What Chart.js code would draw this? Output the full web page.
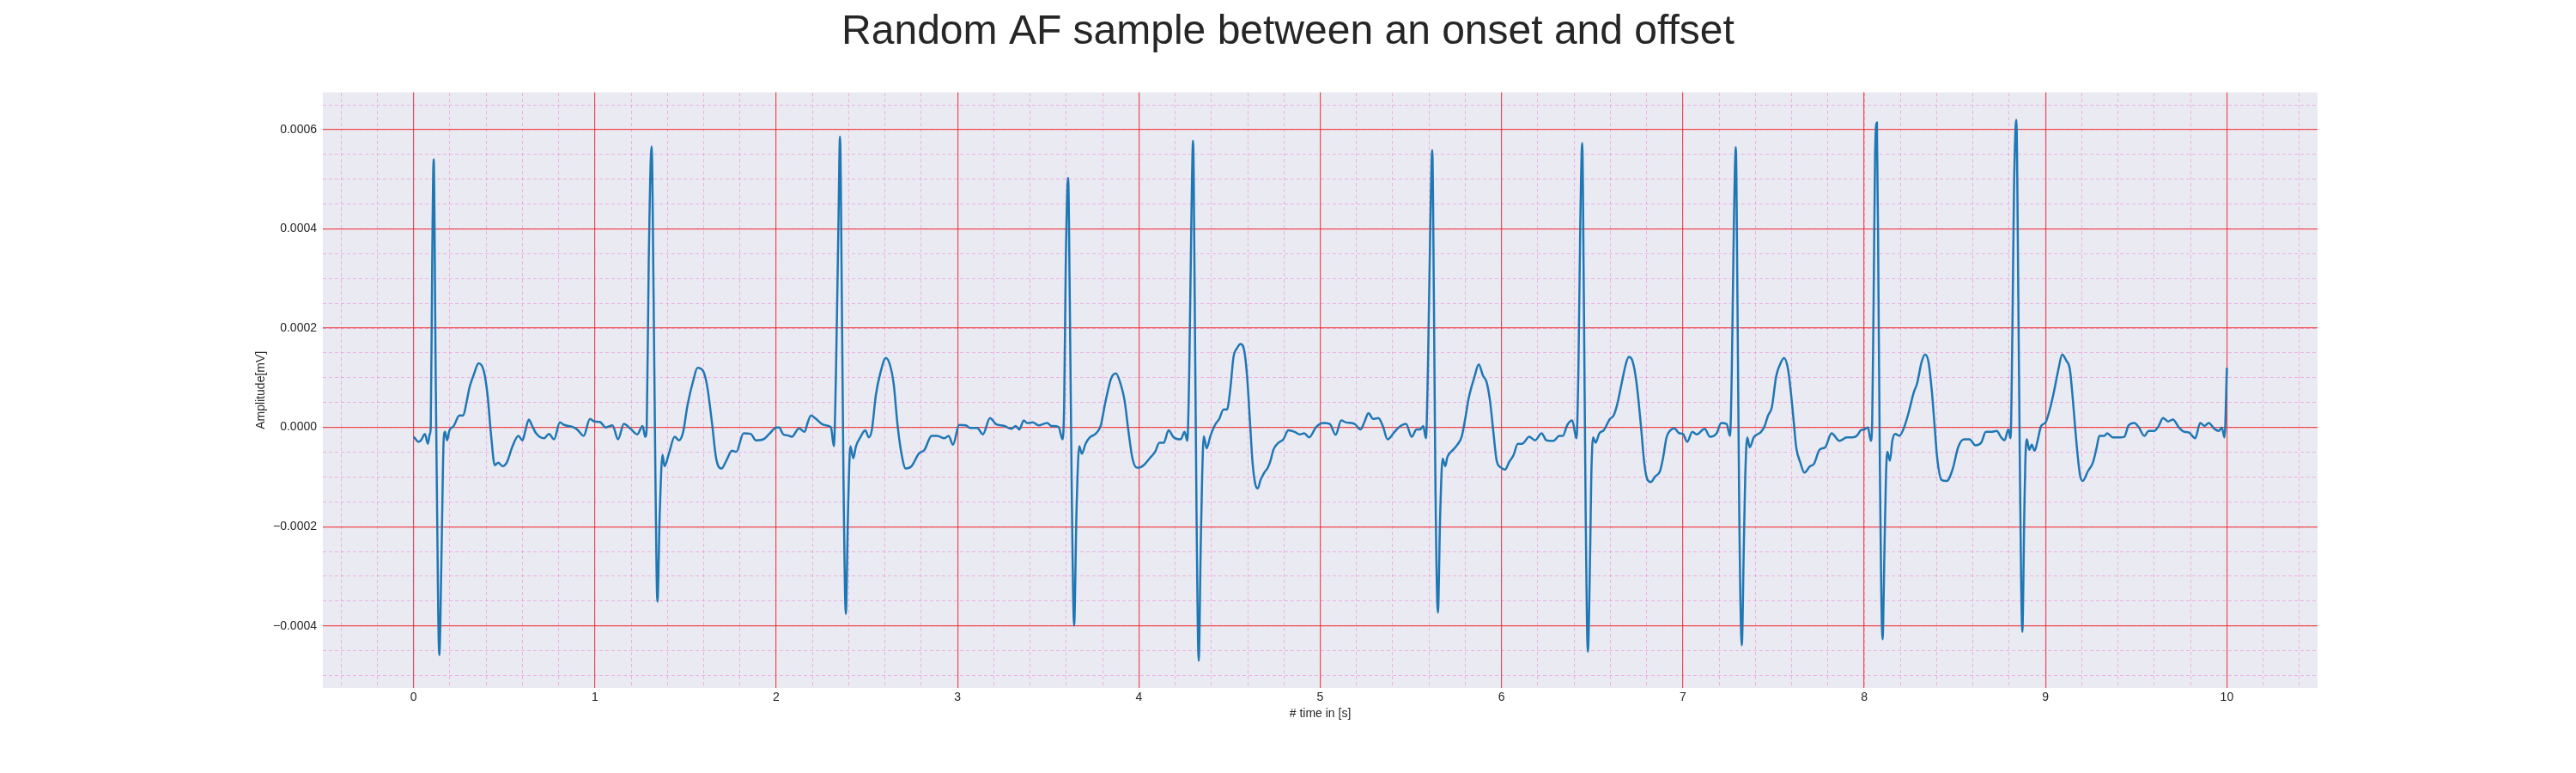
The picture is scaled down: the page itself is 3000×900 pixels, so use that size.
<!DOCTYPE html>
<html>
<head>
<meta charset="utf-8">
<script src="https://cdn.jsdelivr.net/npm/chart.js@4.4.1/dist/chart.umd.min.js"></script>
<style>
  body { margin: 0; background: #fff; }
  canvas { display: block; }
</style>
</head>
<body>
<canvas id="canvas" width="3000" height="900"></canvas>
<script>
// values: time in s, amplitude in units of 1e-4 mV
const AMP_UNIT = 1e-4;

const time_0_2 = [0.000, 0.008, 0.027, 0.043, 0.063, 0.079, 0.090, 0.095, 0.103, 0.111, 0.122, 0.128, 0.142, 0.155, 0.166, 0.174, 0.185, 0.198, 0.222, 0.253, 0.274, 0.293, 0.309, 0.332, 0.359, 0.388, 0.408, 0.427, 0.448, 0.467, 0.491, 0.514, 0.546, 0.578, 0.601, 0.617, 0.636, 0.652, 0.676, 0.720, 0.747, 0.775, 0.807, 0.831, 0.878, 0.902, 0.938, 0.973, 0.997, 1.028, 1.060, 1.097, 1.128, 1.160, 1.195, 1.234, 1.263, 1.278, 1.286, 1.297, 1.313, 1.324, 1.334, 1.345, 1.358, 1.373, 1.384, 1.408, 1.440, 1.464, 1.487, 1.511, 1.543, 1.566, 1.598, 1.619, 1.646, 1.669, 1.698, 1.725, 1.756, 1.780, 1.820, 1.859, 1.888, 1.930, 1.962, 2.002];
const amp_0_2 = [-0.19, -0.22, -0.29, -0.25, -0.13, -0.33, -0.13, 0.00, 3.32, 5.40, 1.17, -0.99, -4.59, -2.43, -0.27, -0.09, -0.26, -0.06, 0.03, 0.24, 0.24, 0.52, 0.81, 1.06, 1.29, 1.13, 0.66, -0.13, -0.76, -0.71, -0.78, -0.71, -0.38, -0.17, -0.26, -0.06, 0.16, 0.05, -0.12, -0.22, -0.13, -0.24, 0.10, 0.05, 0.01, -0.04, -0.17, 0.17, 0.12, 0.11, 0.00, 0.04, -0.24, 0.07, -0.02, -0.14, 0.03, -0.19, 0.00, 3.32, 5.66, 2.60, -0.99, -3.51, -1.71, -0.55, -0.78, -0.53, -0.19, -0.26, -0.09, 0.45, 0.95, 1.20, 1.13, 0.84, 0.09, -0.63, -0.83, -0.67, -0.47, -0.49, -0.12, -0.13, -0.26, -0.24, -0.13, 0.00];

const time_2_4 = [2.016, 2.039, 2.063, 2.086, 2.126, 2.157, 2.173, 2.192, 2.220, 2.252, 2.275, 2.302, 2.318, 2.330, 2.343, 2.352, 2.362, 2.371, 2.384, 2.396, 2.409, 2.425, 2.440, 2.464, 2.491, 2.511, 2.527, 2.550, 2.574, 2.605, 2.629, 2.648, 2.668, 2.689, 2.715, 2.747, 2.786, 2.818, 2.857, 2.888, 2.928, 2.951, 2.975, 3.009, 3.046, 3.069, 3.108, 3.140, 3.179, 3.211, 3.258, 3.297, 3.321, 3.341, 3.365, 3.384, 3.415, 3.447, 3.494, 3.517, 3.557, 3.579, 3.588, 3.597, 3.610, 3.619, 3.629, 3.643, 3.656, 3.671, 3.686, 3.706, 3.730, 3.761, 3.789, 3.816, 3.847, 3.874, 3.899, 3.921, 3.942, 3.965, 3.989];
const amp_2_4 = [0.00, -0.14, -0.16, -0.19, -0.02, -0.09, 0.09, 0.24, 0.17, 0.07, 0.04, 0.00, -0.38, 1.17, 4.04, 5.86, 2.60, -0.99, -3.76, -1.71, -0.38, -0.62, -0.38, -0.20, -0.06, -0.20, -0.06, 0.66, 1.09, 1.40, 1.24, 0.88, 0.09, -0.49, -0.83, -0.78, -0.53, -0.45, -0.17, -0.17, -0.22, -0.17, -0.35, 0.05, 0.04, -0.01, -0.01, -0.14, 0.19, 0.07, 0.03, -0.03, 0.03, -0.04, 0.14, 0.09, 0.10, 0.04, 0.09, 0.03, 0.01, -0.24, 0.45, 3.32, 5.03, 2.60, -0.99, -3.99, -1.71, -0.38, -0.53, -0.33, -0.20, -0.13, 0.03, 0.52, 0.99, 1.09, 0.88, 0.55, -0.06, -0.63, -0.81];

const time_4_6 = [4.000, 4.027, 4.058, 4.090, 4.113, 4.137, 4.164, 4.192, 4.231, 4.252, 4.267, 4.278, 4.289, 4.299, 4.308, 4.318, 4.330, 4.341, 4.349, 4.358, 4.374, 4.393, 4.420, 4.443, 4.467, 4.486, 4.503, 4.522, 4.542, 4.561, 4.582, 4.597, 4.612, 4.627, 4.642, 4.656, 4.671, 4.692, 4.711, 4.726, 4.742, 4.769, 4.797, 4.824, 4.860, 4.887, 4.912, 4.939, 4.978, 5.017, 5.053, 5.085, 5.116, 5.143, 5.190, 5.222, 5.245, 5.266, 5.292, 5.321, 5.347, 5.371, 5.410, 5.437, 5.473, 5.505, 5.531, 5.552, 5.568, 5.583, 5.594, 5.607, 5.618, 5.627, 5.635, 5.649, 5.662, 5.675, 5.690, 5.701, 5.733, 5.756, 5.780, 5.799, 5.819, 5.851, 5.874, 5.898, 5.918, 5.937, 5.956, 5.973, 5.997];
const amp_4_6 = [-0.81, -0.76, -0.63, -0.49, -0.31, -0.31, -0.06, -0.20, -0.24, -0.09, -0.27, 1.17, 4.04, 5.78, 2.60, -1.71, -4.70, -2.43, -0.99, -0.18, -0.42, -0.19, 0.05, 0.17, 0.36, 0.36, 0.73, 1.42, 1.60, 1.68, 1.53, 1.02, 0.16, -0.71, -1.14, -1.23, -1.06, -0.91, -0.81, -0.67, -0.45, -0.31, -0.24, -0.06, -0.09, -0.14, -0.12, -0.20, 0.01, 0.09, 0.07, -0.15, 0.14, 0.10, 0.07, -0.04, 0.12, 0.29, 0.17, 0.19, 0.01, -0.24, -0.09, 0.01, 0.07, -0.19, -0.04, -0.04, 0.03, -0.22, 1.17, 4.04, 5.59, 2.60, -0.99, -3.73, -1.71, -0.63, -0.78, -0.60, -0.45, -0.35, -0.19, 0.16, 0.59, 1.02, 1.27, 1.04, 0.91, 0.52, -0.13, -0.67, -0.81];

const time_6_8 = [6.019, 6.043, 6.066, 6.090, 6.114, 6.153, 6.185, 6.221, 6.248, 6.287, 6.319, 6.338, 6.363, 6.390, 6.413, 6.424, 6.434, 6.445, 6.454, 6.464, 6.476, 6.489, 6.495, 6.505, 6.519, 6.539, 6.563, 6.598, 6.618, 6.637, 6.662, 6.685, 6.702, 6.721, 6.740, 6.756, 6.771, 6.787, 6.804, 6.823, 6.847, 6.874, 6.890, 6.910, 6.931, 6.953, 6.981, 7.000, 7.024, 7.052, 7.076, 7.120, 7.150, 7.186, 7.211, 7.241, 7.260, 7.270, 7.281, 7.292, 7.301, 7.311, 7.325, 7.336, 7.344, 7.355, 7.369, 7.391, 7.431, 7.451, 7.470, 7.491, 7.514, 7.536, 7.558, 7.580, 7.599, 7.612, 7.625, 7.648, 7.670, 7.702, 7.722, 7.754, 7.785, 7.820, 7.864, 7.904, 7.935, 7.959, 7.981];
const amp_6_8 = [-0.85, -0.69, -0.56, -0.33, -0.33, -0.19, -0.26, -0.12, -0.26, -0.27, -0.17, -0.17, 0.05, 0.14, -0.22, 1.17, 4.04, 5.73, 2.60, -1.71, -4.52, -2.43, -0.99, -0.20, -0.31, -0.12, -0.06, 0.17, 0.24, 0.45, 0.88, 1.27, 1.42, 1.35, 1.02, 0.52, -0.06, -0.71, -1.05, -1.10, -0.99, -0.88, -0.63, -0.20, -0.06, -0.02, -0.12, -0.13, -0.29, -0.09, -0.14, -0.03, -0.19, -0.12, 0.09, 0.07, -0.17, 1.17, 4.04, 5.65, 2.60, -1.71, -4.39, -2.43, -0.99, -0.20, -0.40, -0.20, -0.09, 0.03, 0.24, 0.41, 1.02, 1.27, 1.40, 1.17, 0.59, 0.09, -0.40, -0.71, -0.91, -0.78, -0.74, -0.45, -0.40, -0.12, -0.27, -0.20, -0.20, -0.17, -0.06];

const time_8_10 = [8.000, 8.021, 8.036, 8.044, 8.052, 8.060, 8.070, 8.079, 8.087, 8.101, 8.112, 8.120, 8.128, 8.142, 8.155, 8.171, 8.194, 8.221, 8.245, 8.273, 8.292, 8.316, 8.336, 8.355, 8.373, 8.387, 8.403, 8.427, 8.455, 8.487, 8.518, 8.550, 8.581, 8.613, 8.645, 8.671, 8.700, 8.731, 8.755, 8.774, 8.795, 8.807, 8.817, 8.826, 8.839, 8.850, 8.859, 8.872, 8.883, 8.889, 8.897, 8.910, 8.924, 8.940, 8.956, 8.976, 9.000, 9.024, 9.047, 9.071, 9.092, 9.114, 9.134, 9.150, 9.163, 9.177, 9.190, 9.205, 9.234, 9.261, 9.281, 9.297, 9.324, 9.340, 9.371, 9.411, 9.434, 9.458, 9.490, 9.513, 9.545, 9.569, 9.600, 9.624, 9.648, 9.676, 9.703, 9.735, 9.766, 9.790, 9.825, 9.853, 9.877, 9.900, 9.932, 9.956, 9.972, 9.987, 10.000];
const amp_8_10 = [-0.04, 0.00, -0.27, 0.09, 2.60, 5.48, 6.14, 2.60, -0.99, -4.27, -2.43, -0.99, -0.49, -0.67, -0.27, -0.13, -0.17, 0.01, 0.30, 0.70, 0.89, 1.31, 1.47, 1.31, 0.73, 0.09, -0.63, -1.06, -1.08, -0.85, -0.40, -0.24, -0.24, -0.36, -0.31, -0.09, -0.09, -0.07, -0.20, -0.26, -0.04, -0.22, 1.88, 4.76, 6.20, 2.60, -0.99, -4.12, -1.71, -0.63, -0.24, -0.45, -0.35, -0.47, -0.27, 0.03, 0.10, 0.37, 0.73, 1.17, 1.47, 1.35, 1.17, 0.59, 0.01, -0.56, -0.96, -1.08, -0.88, -0.71, -0.42, -0.17, -0.17, -0.12, -0.20, -0.20, -0.19, 0.04, 0.09, 0.01, -0.17, -0.07, -0.07, 0.03, 0.19, 0.12, 0.16, 0.00, -0.09, -0.10, -0.22, 0.09, 0.03, 0.09, -0.03, -0.07, 0.00, -0.20, 1.20];

const xTicks = [0, 1, 2, 3, 4, 5, 6, 7, 8, 9, 10];
const yTicks = [-0.0004, -0.0002, 0, 0.0002, 0.0004, 0.0006];

const titleText = "Random AF sample between an onset and offset";
const xLabel = "# time in [s]";
const yLabel = "Amplitude[mV]";

const FONT = "'Liberation Sans', Arial, sans-serif";
const TEXT = "#262626";

// join the pieces into one trace
const segments = [
  [time_0_2, amp_0_2],
  [time_2_4, amp_2_4],
  [time_4_6, amp_4_6],
  [time_6_8, amp_6_8],
  [time_8_10, amp_8_10],
];
const points = [];
segments.forEach(([ts, as]) => {
  ts.forEach((t, i) => points.push({ x: t, y: as[i] * AMP_UNIT }));
});

// minor grid positions (ecg paper)
function steps(from, to, step) {
  const out = [];
  const n = Math.round((to - from) / step);
  for (let i = 0; i <= n; i++) out.push({ value: from + i * step });
  return out;
}

// chart area background like seaborn darkgrid
const plotBackground = {
  id: "plotBackground",
  beforeDraw(chart) {
    const { ctx, chartArea: a } = chart;
    ctx.save();
    ctx.fillStyle = "#ffffff";
    ctx.fillRect(0, 0, chart.width, chart.height);
    ctx.fillStyle = "#eaeaf2";
    ctx.fillRect(a.left, a.top, a.right - a.left, a.bottom - a.top);
    ctx.restore();
  },
};

const majorGrid = "rgba(240, 40, 40, 0.8)";
const minorGrid = "rgba(240, 120, 210, 0.5)";

const canvas = document.querySelector("#canvas");
const chart = new Chart(canvas, {
  type: "line",
  data: {
    datasets: [
      {
        label: "ECG",
        data: points,
        borderColor: "#1f77b4",
        backgroundColor: "#1f77b4",
        borderWidth: 2.5,
        pointRadius: 0,
        cubicInterpolationMode: "monotone",
        fill: false,
        xAxisID: "x",
        yAxisID: "y",
      },
    ],
  },
  options: {
    responsive: false,
    devicePixelRatio: 1,
    animation: false,
    events: [],
    layout: { padding: 0 },
    plugins: {
      legend: { display: false },
      tooltip: { enabled: false },
      title: {
        display: true,
        text: titleText,
        color: TEXT,
        font: { family: FONT, size: 48, weight: "normal" },
        padding: { top: 9, bottom: 41 },
      },
    },
    scales: {
      xMinor: {
        type: "linear",
        position: "top",
        min: -0.5,
        max: 10.5,
        afterBuildTicks: (s) => { s.ticks = steps(-0.4, 10.4, 0.2); },
        afterFit: (s) => { s.height = 0; },
        ticks: { display: false },
        grid: { color: minorGrid, lineWidth: 1, drawTicks: false, z: -2 },
        border: { display: false, dash: [4, 3] },
      },
      yMinor: {
        type: "linear",
        position: "right",
        min: -0.000525,
        max: 0.000675,
        afterBuildTicks: (s) => { s.ticks = steps(-0.0005, 0.00065, 0.00005); },
        afterFit: (s) => { s.width = 301; },
        ticks: { display: false },
        grid: { color: minorGrid, lineWidth: 1, drawTicks: false, z: -2 },
        border: { display: false, dash: [4, 3] },
      },
      x: {
        type: "linear",
        position: "bottom",
        min: -0.5,
        max: 10.5,
        afterBuildTicks: (s) => { s.ticks = xTicks.map((v) => ({ value: v })); },
        afterFit: (s) => { s.height = 99; },
        ticks: {
          color: TEXT,
          font: { family: FONT, size: 14 },
          padding: 3,
          maxRotation: 0,
          autoSkip: false,
          callback: (v) => String(v),
        },
        grid: { color: majorGrid, lineWidth: 1.2, drawTicks: false, z: -1 },
        border: { display: false },
        title: {
          display: true,
          text: xLabel,
          color: TEXT,
          font: { family: FONT, size: 14 },
          padding: { top: 0, bottom: 60 },
        },
      },
      y: {
        type: "linear",
        position: "left",
        min: -0.000525,
        max: 0.000675,
        afterBuildTicks: (s) => { s.ticks = yTicks.map((v) => ({ value: v })); },
        afterFit: (s) => { s.width = 376; },
        ticks: {
          color: TEXT,
          font: { family: FONT, size: 14 },
          padding: 7,
          autoSkip: false,
          callback: (v) => v.toFixed(4).replace("-", "\u2212"),
        },
        grid: { color: majorGrid, lineWidth: 1.2, drawTicks: false, z: -1 },
        border: { display: false },
        title: {
          display: true,
          text: yLabel,
          color: TEXT,
          font: { family: FONT, size: 14 },
          padding: { top: 296, bottom: 0 },
        },
      },
    },
  },
  plugins: [plotBackground],
});
</script>
</body>
</html>
